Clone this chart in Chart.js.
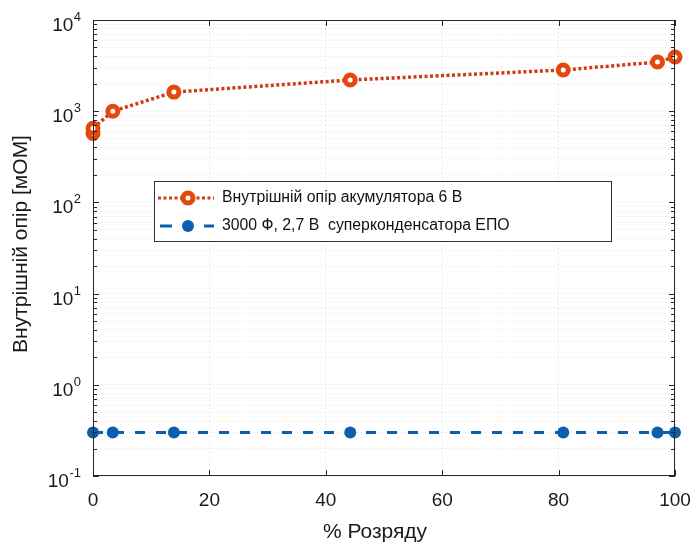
<!DOCTYPE html>
<html>
<head>
<meta charset="utf-8">
<script src="https://cdn.jsdelivr.net/npm/chart.js@4.4.0/dist/chart.umd.min.js"></script>
<style>
html, body { margin: 0; padding: 0; background: #fff; }
canvas { display: block; }
</style>
</head>
<body>
<canvas id="chart" width="693" height="547"></canvas>
<script>
// values
var batteryX = [0, 0, 3.4, 13.9, 44.2, 80.8, 97, 100];
var batteryY = [570, 650, 1000, 1620, 2200, 2830, 3460, 3930];
var capX = [0, 3.4, 13.9, 44.2, 80.8, 97, 100];
var capY = [0.3, 0.3, 0.3, 0.3, 0.3, 0.3, 0.3];
var xTicks = [0, 20, 40, 60, 80, 100];
var yExponents = [-1, 0, 1, 2, 3, 4];
var seriesNames = ["Внутрішній опір акумулятора 6 В", "3000 Ф, 2,7 В  суперконденсатора ЕПО"];
var xTitle = "% Розряду";
var yTitle = "Внутрішній опір [мОМ]";

var FONT = "'Liberation Sans', Arial, sans-serif";
var orange = "#cf3a18";
var ring = "#e5480f";
var blue = "#0c5faf";

function points(xs, ys){
    var out = [];
    for(var i = 0; i < xs.length; i++){
        out.push({x: xs[i], y: ys[i]});
    }
    return out;
}

function yTickValues(){
    var vals = [];
    for(var e = -1; e < 4; e++){
        for(var m = 1; m < 10; m++){
            vals.push({value: m * Math.pow(10, e)});
        }
    }
    vals.push({value: 10000});
    return vals;
}

function isPow10(v){
    var l = Math.log10(v);
    return Math.abs(l - Math.round(l)) < 1e-9;
}

var framePlugin = {
    id: "frame",
    afterDraw: function(chart){
        var ctx = chart.ctx;
        var a = chart.chartArea;
        var xs = chart.scales.x;
        var ys = chart.scales.y;
        ctx.save();
        ctx.strokeStyle = "#262626";
        ctx.lineWidth = 1;
        ctx.strokeRect(a.left + 0.5, a.top + 0.5, a.right - a.left - 1, a.bottom - a.top - 1);
        ctx.beginPath();
        xTicks.forEach(function(t){
            var px = Math.round(xs.getPixelForValue(t)) + 0.5;
            ctx.moveTo(px, a.bottom); ctx.lineTo(px, a.bottom - 6);
            ctx.moveTo(px, a.top); ctx.lineTo(px, a.top + 6);
        });
        yTickValues().forEach(function(t){
            var py = Math.round(ys.getPixelForValue(t.value)) + 0.5;
            var len = isPow10(t.value) ? 6 : 4;
            ctx.moveTo(a.left, py); ctx.lineTo(a.left + len, py);
            ctx.moveTo(a.right, py); ctx.lineTo(a.right - len, py);
        });
        ctx.stroke();

        // y tick labels 10^n
        ctx.fillStyle = "#1a1a1a";
        ctx.textBaseline = "alphabetic";
        yExponents.forEach(function(e){
            var py = ys.getPixelForValue(Math.pow(10, e));
            var exp = String(e);
            ctx.font = "13px " + FONT;
            var ew = ctx.measureText(exp).width;
            ctx.textAlign = "right";
            ctx.fillText(exp, 81, py + 1);
            ctx.font = "19px " + FONT;
            ctx.fillText("10", 81 - ew - 0.5, py + 11);
        });

        // axis titles
        ctx.font = "21px " + FONT;
        ctx.textAlign = "center";
        ctx.textBaseline = "middle";
        ctx.fillText(xTitle, 375, 532);
        ctx.save();
        ctx.translate(21, 244);
        ctx.rotate(-Math.PI / 2);
        ctx.fillText(yTitle, 0, 0);
        ctx.restore();

        // legend
        var lx = 154, ly = 181, lw = 457, lh = 60;
        ctx.fillStyle = "#fff";
        ctx.fillRect(lx, ly, lw, lh);
        ctx.strokeStyle = "#333";
        ctx.lineWidth = 1;
        ctx.strokeRect(lx + 0.5, ly + 0.5, lw, lh);

        var r1 = 198, r2 = 226;
        ctx.lineWidth = 3;
        ctx.strokeStyle = orange;
        ctx.setLineDash([3, 2.5]);
        ctx.beginPath(); ctx.moveTo(158, r1); ctx.lineTo(214, r1); ctx.stroke();
        ctx.setLineDash([]);
        ctx.beginPath(); ctx.arc(188, r1, 5, 0, Math.PI * 2);
        ctx.fillStyle = "#fff"; ctx.fill();
        ctx.lineWidth = 5; ctx.strokeStyle = ring; ctx.stroke();

        ctx.lineWidth = 3;
        ctx.strokeStyle = blue;
        ctx.setLineDash([12, 32]);
        ctx.beginPath(); ctx.moveTo(160, r2); ctx.lineTo(214, r2); ctx.stroke();
        ctx.setLineDash([]);
        ctx.beginPath(); ctx.arc(188, r2, 6, 0, Math.PI * 2);
        ctx.fillStyle = blue; ctx.fill();

        ctx.fillStyle = "#111";
        ctx.font = "15.8px " + FONT;
        ctx.textAlign = "left";
        ctx.fillText(seriesNames[0], 222, r1);
        ctx.fillText(seriesNames[1], 222, r2);
        ctx.restore();
    }
};

var ctx = document.getElementById("chart").getContext("2d");
var myChart = new Chart(ctx, {
    type: "scatter",
    data: {
        datasets: [
            {
                label: seriesNames[0],
                data: points(batteryX, batteryY),
                showLine: true,
                borderColor: orange,
                borderWidth: 3.5,
                borderDash: [3, 2.5],
                pointRadius: 5,
                pointBorderWidth: 5,
                pointBorderColor: ring,
                pointBackgroundColor: "#fff",
                clip: false
            },
            {
                label: seriesNames[1],
                data: points(capX, capY),
                showLine: true,
                borderColor: blue,
                borderWidth: 3,
                borderDash: [10, 11],
                pointRadius: 6,
                pointBorderWidth: 0,
                pointBackgroundColor: blue,
                clip: false
            }
        ]
    },
    options: {
        responsive: false,
        animation: false,
        layout: { padding: { left: 0, right: 18, top: 20, bottom: 0 } },
        plugins: {
            legend: { display: false },
            tooltip: { enabled: false }
        },
        scales: {
            x: {
                type: "linear",
                min: 0,
                max: 100,
                afterBuildTicks: function(scale){
                    scale.ticks = xTicks.map(function(v){ return {value: v}; });
                },
                afterFit: function(scale){
                    scale.height = 71;
                    scale.paddingLeft = 0;
                    scale.paddingRight = 0;
                },
                grid: {
                    color: "rgba(0,0,0,0.13)",
                    lineWidth: 1,
                    drawTicks: false
                },
                border: { display: false, dash: [1, 3] },
                ticks: {
                    padding: 13,
                    color: "#1a1a1a",
                    font: { family: FONT, size: 19 },
                    maxRotation: 0
                }
            },
            y: {
                type: "logarithmic",
                min: 0.1,
                max: 10000,
                afterBuildTicks: function(scale){
                    scale.ticks = yTickValues();
                },
                afterFit: function(scale){
                    scale.width = 93;
                    scale.paddingTop = 0;
                    scale.paddingBottom = 0;
                },
                grid: {
                    color: "rgba(0,0,0,0.11)",
                    lineWidth: 1,
                    drawTicks: false
                },
                border: { display: false, dash: [1, 3] },
                ticks: { display: false }
            }
        }
    },
    plugins: [framePlugin]
});
</script>
</body>
</html>
